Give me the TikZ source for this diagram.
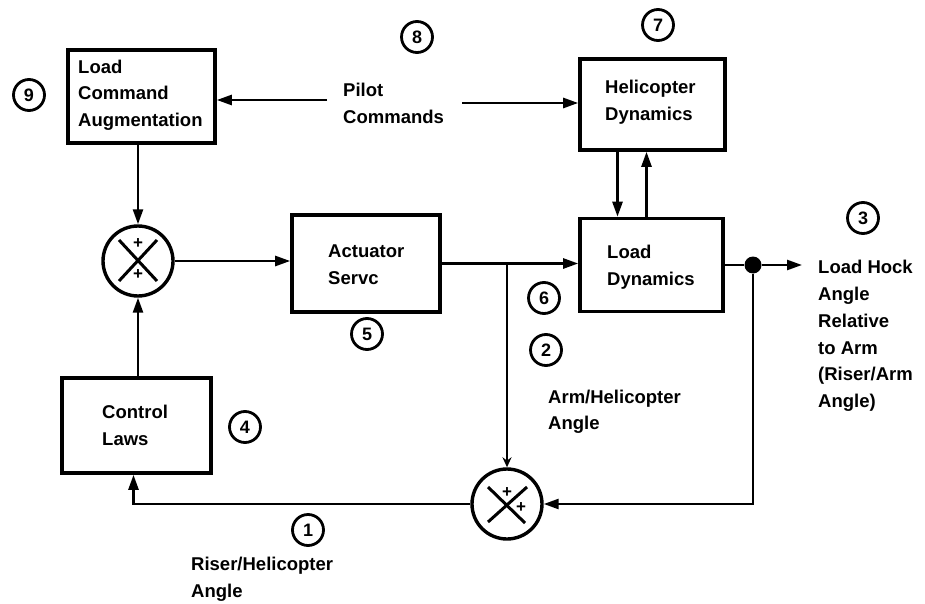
\documentclass[tikz,border=0pt]{standalone}
\usepackage{fontspec}
\setmainfont{Liberation Sans}
\usetikzlibrary{arrows.meta,calc}
\begin{document}
\begin{tikzpicture}[x=1pt,y=-1pt,
  blk/.style={draw, line width=3.6pt, inner sep=0pt},
  lbl/.style={anchor=west, align=left, inner sep=0pt, font=\bfseries\fontsize{18.5}{26.5}\selectfont},
  num/.style={circle, draw, line width=2.8pt, minimum size=31pt, inner sep=0pt, font=\bfseries\fontsize{18}{20}\selectfont},
  sum/.style={circle, draw, line width=3.4pt, minimum size=70pt, inner sep=0pt},
  pl/.style={inner sep=0pt, font=\bfseries\fontsize{17}{17}\selectfont},
  conn/.style={line width=2.5pt, -{Triangle[length=15pt,width=10pt]}},
  thin conn/.style={line width=1.8pt, -{Stealth[length=10pt,width=9pt,open]}}
]
\useasboundingbox (0,0) rectangle (925,604);

% blocks
\node[blk, minimum width=147pt, minimum height=93pt] (lca) at (141.5,96.5) {};
\node[blk, minimum width=145pt, minimum height=91pt] (heli) at (652.5,104.5) {};
\node[blk, minimum width=143pt, minimum height=93pt] (load) at (651.5,265) {};
\node[blk, minimum width=148pt, minimum height=97pt] (act) at (366,263.5) {};
\node[blk, minimum width=149pt, minimum height=95pt] (ctl) at (136.5,425.5) {};

% block texts
\node[lbl] (lcaT) at (78,95) {Load\\Command\\Augmentation};
\node[lbl] (heliT) at (605,102) {Helicopter\\Dynamics};
\node[lbl] (loadT) at (607,267) {Load\\Dynamics};
\node[lbl] (actT) at (328,264.5) {Actuator\\Servc};
\node[lbl] (ctlT) at (102,425.5) {Control\\Laws};

% free texts
\node[lbl] (pilot) at (343,103.5) {Pilot\\Commands};
\node[lbl, font=\bfseries\fontsize{18.5}{26.8}\selectfont] (outT) at (818,336) {Load Hock\\Angle\\Relative\\to Arm\\(Riser/Arm\\Angle)};
\node[lbl] (armT) at (548,412) {Arm/Helicopter\\Angle};
\node[lbl] (riserT) at (191,579) {Riser/Helicopter\\Angle};

% summing junctions
\node[sum] (s1) at (138,261) {};
\draw[line width=3pt] ($(s1)+(-19,-21)$) -- ($(s1)+(19,20)$);
\draw[line width=3pt] ($(s1)+(19,-21)$) -- ($(s1)+(-19,20)$);
\node[pl] (s1p1) at ($(s1)+(0,-17)$) {+};
\node[pl] (s1p2) at ($(s1)+(0,14)$) {+};

\node[sum] (s2) at (507,504) {};
\draw[line width=3pt] ($(s2)+(-19,-17)$) -- ($(s2)+(18,19)$);
\draw[line width=3pt] ($(s2)+(20,-17)$) -- ($(s2)+(-19,18)$);
\node[pl] (s2p1) at ($(s2)+(0,-11)$) {+};
\node[pl] (s2p2) at ($(s2)+(14,4)$) {+};

% circled numbers
\node[num] (n9) at (29,95) {9};
\node[num] (n8) at (417,37) {8};
\node[num] (n7) at (658,25) {7};
\node[num] (n3) at (863,218) {3};
\node[num] (n5) at (367,334) {5};
\node[num] (n6) at (544,298) {6};
\node[num] (n2) at (546,350) {2};
\node[num] (n4) at (245,427) {4};
\node[num] (n1) at (308,530) {1};

% connectors
\coordinate (pL) at (327,100);
\coordinate (pR) at (462,103);
\draw[conn] (pL) -- (lca.east |- pL);
\draw[conn] (pR) -- (heli.west |- pR);
\draw[conn] (s1 |- lca.south) -- (s1.north);
\draw[conn] (s1 |- ctl.north) -- (s1.south);
\draw[conn] (s1.east) -- (act.west |- s1.east);
\draw[conn] (act.east) -- (load.west |- act.east);
\coordinate (j) at (s2 |- act.east);
\draw[thin conn] (j) -- (s2.north);
\draw[conn] ([xshift=-35pt]heli.south) -- ([xshift=-35pt]heli.south |- load.north);
\draw[conn] ([xshift=-5pt]load.north) -- ([xshift=-5pt]load.north |- heli.south);
\node[circle, fill, minimum size=17pt, inner sep=0pt] (d) at (753,265) {};
\coordinate (out) at (802,265);
\draw[line width=2.5pt] (load.east) -- (d);
\draw[conn] (d) -- (out);
\draw[conn] (d) |- (s2.east);
\draw[conn] (s2.west) -| ([xshift=-3pt]ctl.south);
\end{tikzpicture}
\end{document}
